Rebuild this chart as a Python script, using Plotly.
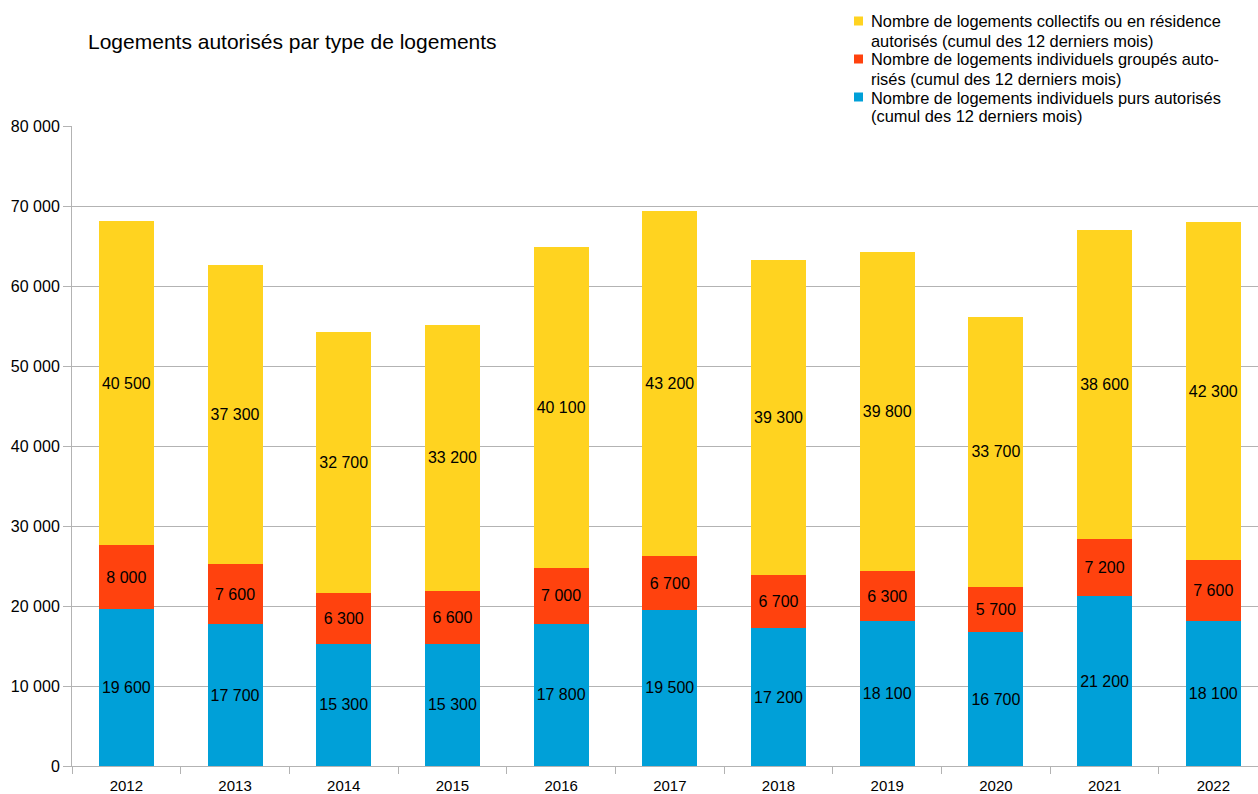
import plotly.graph_objects as go

years = ["2012", "2013", "2014", "2015", "2016", "2017", "2018", "2019", "2020", "2021", "2022"]
purs = [19600, 17700, 15300, 15300, 17800, 19500, 17200, 18100, 16700, 21200, 18100]
groupes = [8000, 7600, 6300, 6600, 7000, 6700, 6700, 6300, 5700, 7200, 7600]
collectifs = [40500, 37300, 32700, 33200, 40100, 43200, 39300, 39800, 33700, 38600, 42300]

legend_lines = [
    ["Nombre de logements collectifs ou en résidence", "autorisés (cumul des 12 derniers mois)"],
    ["Nombre de logements individuels groupés auto-", "risés (cumul des 12 derniers mois)"],
    ["Nombre de logements individuels purs autorisés", "(cumul des 12 derniers mois)"],
]
names = [
    "Nombre de logements individuels purs autorisés (cumul des 12 derniers mois)",
    "Nombre de logements individuels groupés autorisés (cumul des 12 derniers mois)",
    "Nombre de logements collectifs ou en résidence autorisés (cumul des 12 derniers mois)",
]
colors = ["#00A0D8", "#FF420E", "#FFD320"]

W, H = 1258, 794
ML, MR, MT, MB = 72, 0, 126, 28
PW, PH = W - ML - MR, H - MT - MB

def fmt(v):
    return f"{v:,}".replace(",", " ")

fig = go.Figure()
for vals, name, col in zip([purs, groupes, collectifs], names, colors):
    fig.add_trace(go.Bar(
        x=years, y=vals, name=name, marker_color=col, marker_line_width=0,
        text=[fmt(v) for v in vals], textposition="inside", insidetextanchor="middle",
        textangle=0, textfont=dict(color="black", size=16, family="Liberation Sans"),
        hoverinfo="skip", showlegend=False,
    ))

# legend drawn as text + colour keys (top right)
leg_colors = [colors[2], colors[1], colors[0]]
annotations = []
shapes = []
for i, (lines, col) in enumerate(zip(legend_lines, leg_colors)):
    for j, line in enumerate(lines):
        ypx = 21.5 + 19 * (2 * i + j)
        annotations.append(dict(
            text=line, xref="paper", yref="paper",
            x=(869 - ML) / PW, y=1 + (MT - ypx) / PH,
            xanchor="left", yanchor="middle", showarrow=False,
            font=dict(size=16.4, family="Liberation Sans", color="black"),
        ))
    ypx = 21.5 + 19 * (2 * i)
    shapes.append(dict(
        type="rect", xref="paper", yref="paper",
        x0=(854 - ML) / PW, x1=(863 - ML) / PW,
        y0=1 + (MT - (ypx - 5)) / PH, y1=1 + (MT - (ypx + 4)) / PH,
        fillcolor=col, line_width=0,
    ))

fig.update_layout(
    width=W, height=H,
    barmode="stack", bargap=0.494,
    plot_bgcolor="white", paper_bgcolor="white",
    margin=dict(l=ML, r=MR, t=MT, b=MB),
    separators=", ",
    font=dict(family="Liberation Sans", size=16, color="black"),
    title=dict(text="Logements autorisés par type de logements", x=88 / W, xanchor="left",
               y=1 - 42 / H, yanchor="middle", font=dict(size=21, family="Liberation Sans")),
    showlegend=False,
    annotations=annotations,
    shapes=shapes,
)
fig.update_xaxes(range=[-0.5, 10.411], showline=True, linecolor="#b3b3b3", linewidth=1,
                 ticks="outside", tickson="boundaries", ticklen=7, tickcolor="#b3b3b3",
                 ticklabelstandoff=6, tickfont=dict(size=15), showgrid=False,
                 automargin=False)
fig.update_yaxes(range=[0, 80000], dtick=10000, tickformat=",d", showline=True,
                 linecolor="#b3b3b3", linewidth=1, ticks="outside", ticklen=8,
                 tickcolor="#b3b3b3", gridcolor="#b3b3b3", gridwidth=1,
                 tickfont=dict(size=16), zeroline=False, automargin=False)

fig.write_html("out.html")
